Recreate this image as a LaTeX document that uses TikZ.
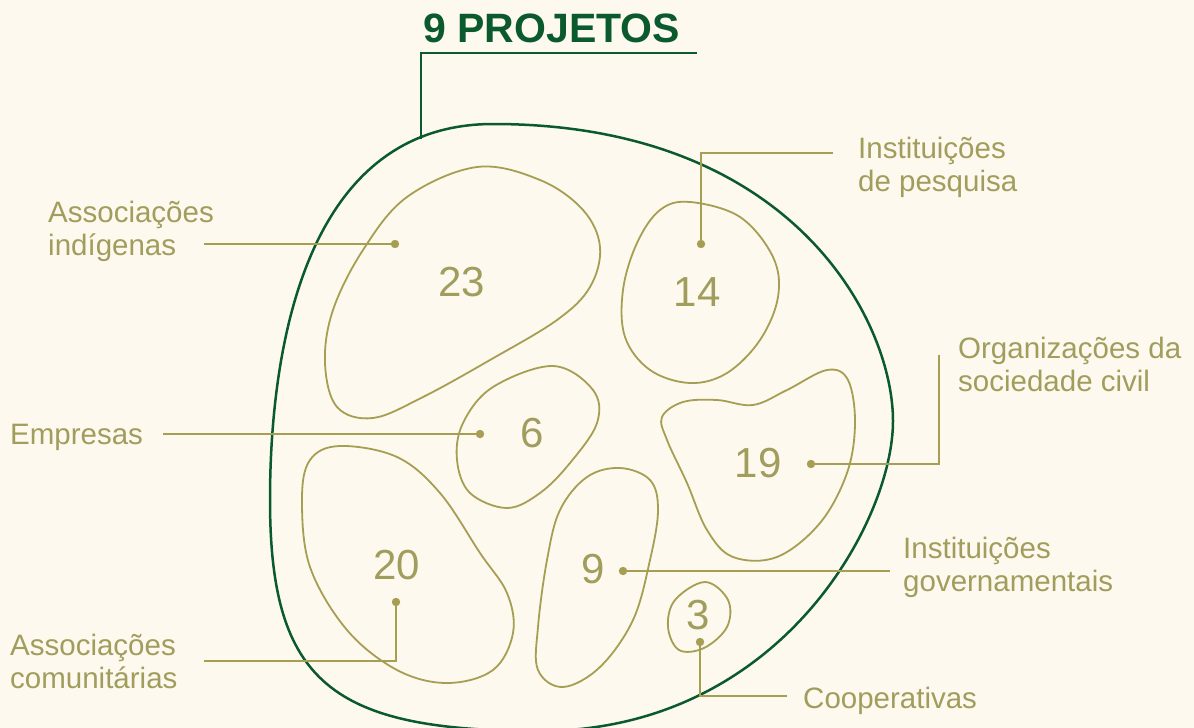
\documentclass[tikz,border=0pt]{standalone}
\usepackage{fontspec}
\setmainfont{Liberation Sans}
\definecolor{bgcream}{HTML}{FDF9EE}
\definecolor{forest}{HTML}{0B5A2D}
\definecolor{sand}{HTML}{A69E52}
\definecolor{sandtext}{HTML}{A19D5D}
\tikzset{
  blob/.style={draw=sand, line width=1.8pt},
  leader/.style={draw=sand, line width=2pt},
  num/.style={text=sandtext, font=\fontsize{42}{42}\selectfont},
  lbl/.style={text=sandtext, font=\fontsize{29.5}{33}\selectfont, align=left, anchor=base west, inner sep=0pt},
}

\begin{document}
\begin{tikzpicture}[x=1pt,y=-1pt]
	\fill[bgcream] (0,0) rectangle (1194,728);
	\useasboundingbox (0,0) rectangle (1194,728);
	% outer shape and title
	\draw[forest, line width=2.5pt] (493,124) .. controls (793,124) and (893,321) .. (893,421)
		.. controls (893,521) and (780,731) .. (540,731)
		.. controls (332,731) and (270,683) .. (270,500)
		.. controls (270,388) and (289,124) .. (493,124) -- cycle;
	\node[anchor=base west, inner sep=0pt, text=forest, font=\fontsize{41}{41}\selectfont\bfseries] (title) at (423,42) {9 PROJETOS};
	\coordinate (top) at (421,139);
	\coordinate (tcorner) at (421,53);
	\coordinate (tend) at (697,53);
	\draw[forest, line width=2.5pt] (top) -- (tcorner) -- (tend);
	% groups
	\draw[blob] plot[smooth cycle, tension=0.6] coordinates {(477,167) (540,180) (583,210) (600,247) (590,287) (557,320) (490,360) (423,397) (373,418) (337,407) (325,363) (333,310) (363,250) (407,197)};
	\draw[blob] plot[smooth cycle, tension=0.6] coordinates {(553,366) (593,390) (597,423) (570,463) (540,493) (507,508) (470,493) (457,460) (463,423) (493,387)};
	\draw[blob] plot[smooth cycle, tension=0.6] coordinates {(340,446) (397,457) (440,493) (480,553) (507,593) (513,633) (493,670) (447,683) (397,670) (347,630) (310,567) (302,500) (310,460)};
	\draw[blob] plot[smooth cycle, tension=0.6] coordinates {(620,468) (650,480) (658,510) (650,560) (633,620) (600,667) (563,687) (538,670) (538,627) (547,560) (560,510) (587,477)};
	\draw[blob] plot[smooth cycle, tension=0.6] coordinates {(690,202) (740,217) (773,257) (778,297) (760,340) (727,373) (690,383) (650,370) (625,337) (623,290) (637,243) (660,210)};
	\draw[blob] plot[smooth cycle, tension=0.6] coordinates {(662,417) (683,402) (717,400) (753,405) (787,390) (827,370) (848,380) (855,423) (847,473) (820,523) (777,557) (733,557) (707,530) (687,483) (667,440)};
	\draw[blob] plot[smooth cycle, tension=0.6] coordinates {(705,582) (728,600) (727,627) (704,648) (679,650) (668,627) (675,600)};
	\node[num] (n23) at (462,282) {23};
	\node[num] (n14) at (697,292) {14};
	\node[num] (n6) at (532,433) {6};
	\node[num] (n19) at (758,463) {19};
	\node[num] (n20) at (397,565) {20};
	\node[num] (n9) at (593,569) {9};
	\node[num] (n3) at (698,615) {3};
	% labels
	\node[lbl] (lind) at (48,255) {Associações\\indígenas};
	\node[lbl] (lpesq) at (858,191) {Instituições\\de pesquisa};
	\node[lbl] (lemp) at (10,444) {Empresas};
	\node[lbl] (lsoc) at (958,391) {Organizações da\\sociedade civil};
	\node[lbl] (lgov) at (903,591) {Instituições\\governamentais};
	\node[lbl] (lcom) at (10,688) {Associações\\comunitárias};
	\node[lbl] (lcoop) at (803,708) {Cooperativas};
	% leaders
	\coordinate (d23) at (395,244);
	\coordinate (d14) at (701,244);
	\coordinate (d6) at (480,434);
	\coordinate (d19) at (811,464);
	\coordinate (d9) at (623,571);
	\coordinate (d20) at (396,602);
	\coordinate (d3) at (700,642);
	\coordinate (e23) at (204,244);
	\coordinate (k14) at (701,153);
	\coordinate (e14) at (833,153);
	\coordinate (e6) at (163,434);
	\coordinate (k19) at (939,464);
	\coordinate (e19) at (939,355);
	\coordinate (e9) at (890,571);
	\coordinate (k20) at (396,661);
	\coordinate (e20) at (204,661);
	\coordinate (k3) at (700,696);
	\coordinate (e3) at (787,696);
	\draw[leader] (d23) -- (e23);
	\draw[leader] (d14) -- (k14) -- (e14);
	\draw[leader] (d6) -- (e6);
	\draw[leader] (d19) -- (k19) -- (e19);
	\draw[leader] (d9) -- (e9);
	\draw[leader] (d20) -- (k20) -- (e20);
	\draw[leader] (d3) -- (k3) -- (e3);
	\foreach \d in {d23,d14,d6,d19,d9,d20,d3}
		\fill[sand] (\d) circle (4.2);
\end{tikzpicture}
\end{document}
